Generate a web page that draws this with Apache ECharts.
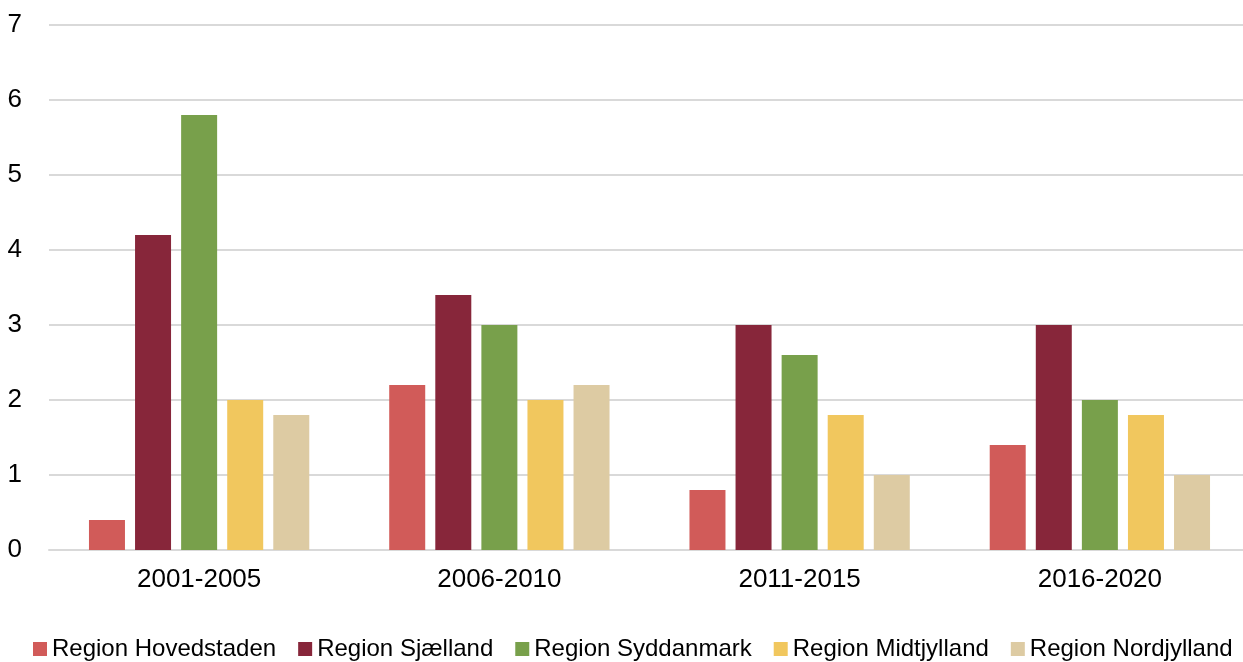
<!DOCTYPE html>
<html>
<head>
<meta charset="utf-8">
<script src="https://cdn.jsdelivr.net/npm/echarts@6/dist/echarts.min.js"></script>
<style>
  html, body { margin: 0; padding: 0; background: #ffffff; overflow: hidden; }
  #chart { width: 1252px; height: 662px; }
</style>
</head>
<body>
<div id="chart"></div>
<script>
const periods = ["2001-2005", "2006-2010", "2011-2015", "2016-2020"];
const hovedstaden = [0.4, 2.2, 0.8, 1.4];
const sjaelland = [4.2, 3.4, 3.0, 3.0];
const syddanmark = [5.8, 3.0, 2.6, 2.0];
const midtjylland = [2.0, 2.0, 1.8, 1.8];
const nordjylland = [1.8, 2.2, 1.0, 1.0];
const seriesNames = ["Region Hovedstaden", "Region Sjælland", "Region Syddanmark", "Region Midtjylland", "Region Nordjylland"];
const colors = ["#D15B59", "#87263A", "#78A04B", "#F1C75E", "#DDCBA3"];

const chart = echarts.init(document.getElementById("chart"));
const font = "Liberation Sans, Arial, sans-serif";

function bar(name, data, color) {
  return {
    name: name,
    type: "bar",
    data: data,
    barWidth: 36,
    barGap: "28%",
    itemStyle: { color: color }
  };
}

chart.setOption({
  animation: false,
  color: colors,
  textStyle: { fontFamily: font },
  grid: { left: 49, top: 25, width: 1201, height: 525 },
  legend: {
    top: 637,
    left: 33,
    width: 1210,
    padding: 0,
    itemWidth: 14,
    itemHeight: 14,
    itemGap: 22,
    icon: "rect",
    textStyle: { fontSize: 24, color: "#000", fontFamily: font },
    data: seriesNames
  },
  xAxis: {
    type: "category",
    data: periods,
    axisLine: { lineStyle: { color: "#d9d9d9", width: 2 } },
    axisTick: { show: false },
    axisLabel: { fontSize: 26, color: "#000", margin: 17, fontFamily: font }
  },
  yAxis: {
    type: "value",
    min: 0,
    max: 7,
    interval: 1,
    axisLine: { show: false },
    axisTick: { show: false },
    axisLabel: { fontSize: 26, color: "#000", margin: 27, fontFamily: font },
    splitLine: { lineStyle: { color: "#d9d9d9", width: 2 } }
  },
  series: [
    bar(seriesNames[0], hovedstaden, colors[0]),
    bar(seriesNames[1], sjaelland, colors[1]),
    bar(seriesNames[2], syddanmark, colors[2]),
    bar(seriesNames[3], midtjylland, colors[3]),
    bar(seriesNames[4], nordjylland, colors[4])
  ]
});
</script>
</body>
</html>
